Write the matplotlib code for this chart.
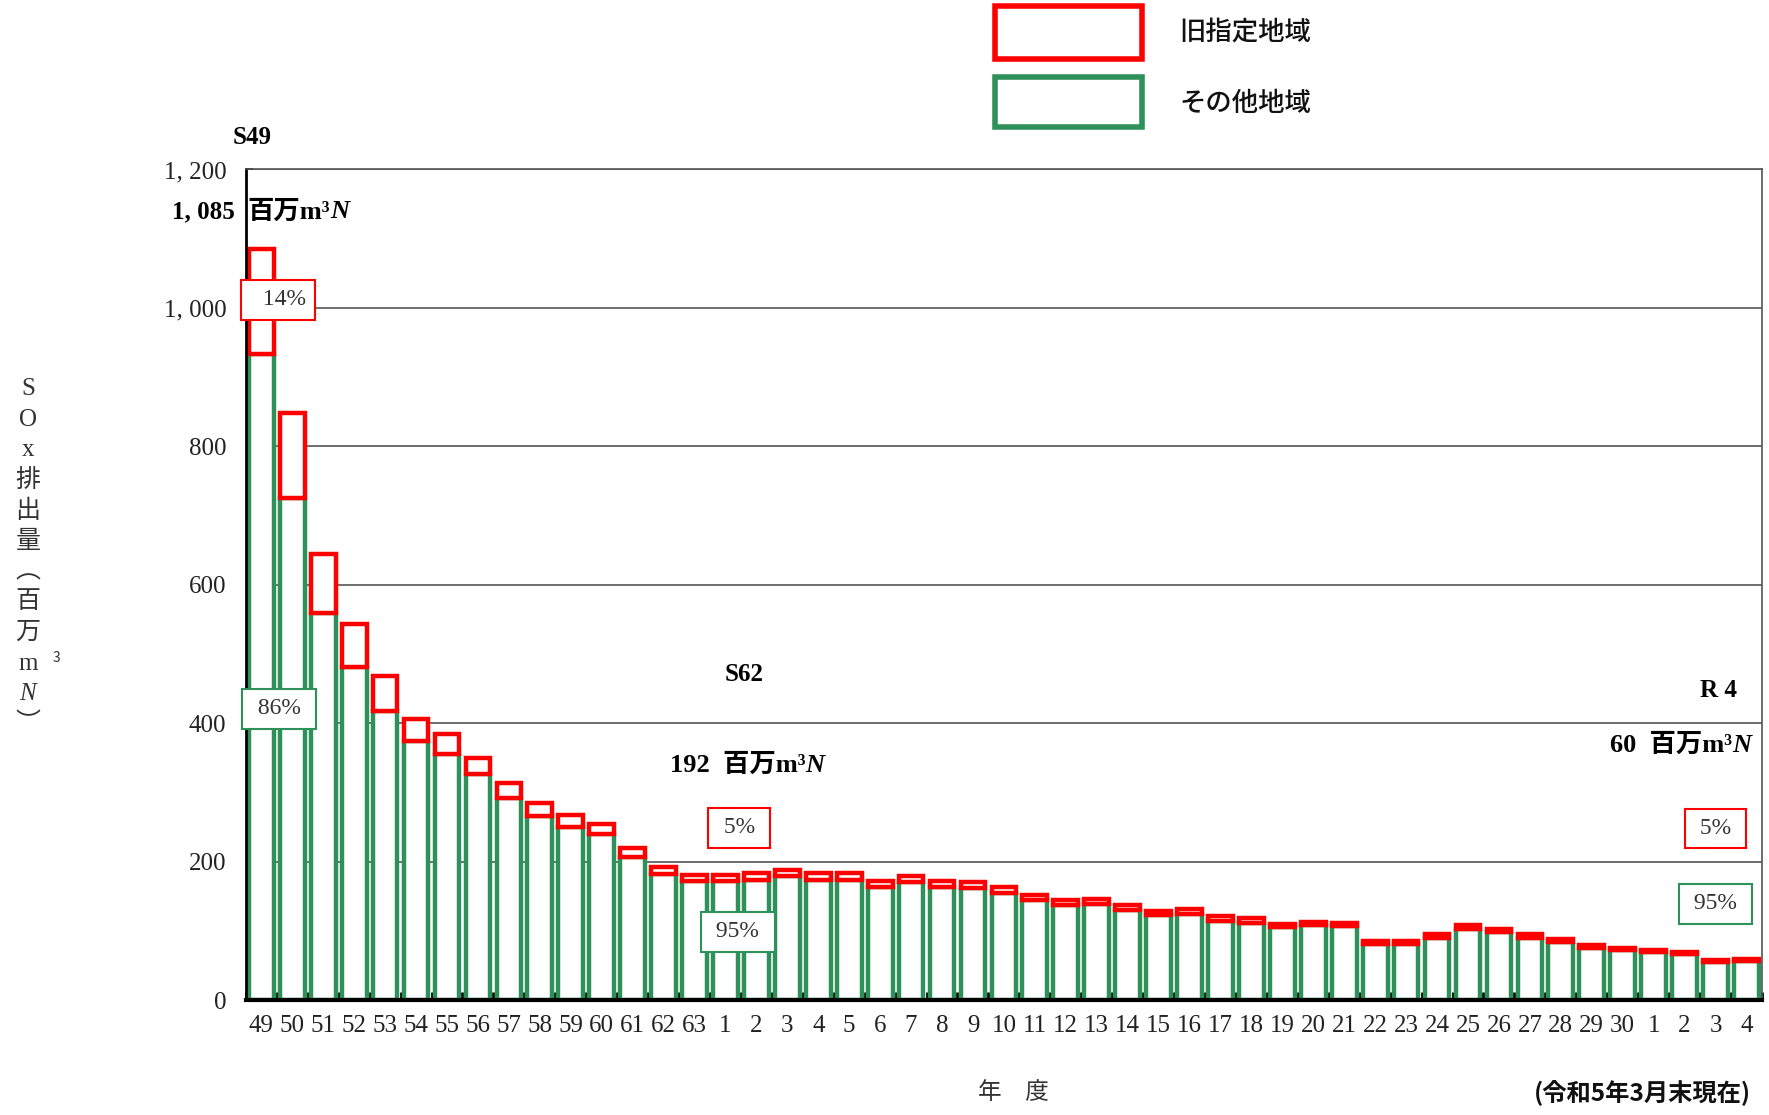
import numpy as np
import matplotlib
matplotlib.use('Agg')
import matplotlib.pyplot as plt
from matplotlib.patches import Rectangle

#%% data (百万m3N)
year_labels = ['49', '50', '51', '52', '53', '54', '55', '56', '57', '58', '59', '60', '61', '62', '63'] \
    + [str(i) for i in range(1, 31)] + ['1', '2', '3', '4']

# その他地域 (green)
other_area = [933, 726, 559, 482, 418, 375, 356, 326, 292, 266, 250, 240, 207, 182, 172,
              172, 174, 179, 174, 174, 163, 171, 163, 162, 155, 144, 138, 139, 130, 123,
              125, 115, 112, 105, 108, 107, 81, 81, 90, 103, 98, 90, 84, 76, 72,
              69, 67, 55, 57]
# 旧指定地域 (red)
old_area = [152, 122, 86, 62, 50, 31, 28, 24, 22, 19, 17, 14, 13, 10, 9,
            9, 9, 9, 9, 9, 9, 9, 9, 9, 8, 8, 7, 7, 7, 6,
            6, 6, 6, 5, 5, 5, 4, 4, 5, 5, 5, 5, 4, 4, 4,
            4, 3, 3, 3]

yticks = [0, 200, 400, 600, 800, 1000, 1200]

RED = '#FF0000'
GREEN = '#2E9159'
SERIF = ['Liberation Serif', 'Noto Sans CJK JP']
SANS = ['Noto Sans CJK JP', 'DejaVu Sans']

plt.rcParams['font.family'] = SERIF

#%% figure
fig = plt.figure(figsize=(17.69, 11.15), dpi=100)
ax = fig.add_axes([0.139, 0.103, 0.857, 0.745])

x = np.arange(len(year_labels))
ax.bar(x, other_area, width=0.8, color='white', edgecolor=GREEN, linewidth=3.2, zorder=3)
ax.bar(x, old_area, bottom=other_area, width=0.8, color='white', edgecolor=RED, linewidth=3.2, zorder=4)

ax.set_xlim(-0.5, len(year_labels) - 0.5)
ax.set_ylim(0, 1200)
ax.set_yticks(yticks)
ax.set_yticklabels([f"{v:,}".replace(',', ', ') for v in yticks], fontsize=18, color='#222222')
ax.set_xticks(x)
ax.set_xticklabels(year_labels, fontsize=18, color='#222222')
ax.set_xticks(np.arange(-0.5, len(year_labels), 1), minor=True)
ax.tick_params(axis='x', which='major', length=0, pad=11)
ax.tick_params(axis='x', which='minor', direction='in', length=6, width=2, color='black')
ax.tick_params(axis='y', direction='in', length=5, width=1.2, pad=14)

ax.set_axisbelow(True)
ax.yaxis.grid(True, color='#555555', linewidth=1.2)
for s in ['top', 'right']:
    ax.spines[s].set_color('#555555')
    ax.spines[s].set_linewidth(1.2)
ax.spines['left'].set_linewidth(2.0)
ax.spines['bottom'].set_linewidth(3.0)
for s in ax.spines.values():
    s.set_zorder(6)


def unit_text(xx, yy, prefix):
    t = ax.text(xx, yy, prefix + '百万m³', fontsize=19, fontweight='bold', ha='left', va='center',
                clip_on=False, family=SERIF)
    ax.annotate('N', xy=(1, 0.5), xycoords=t, va='center', ha='left', fontsize=19,
                fontweight='bold', style='italic', family=SERIF, annotation_clip=False)


# annotations
ax.text(-0.3, 1246, 'S49', fontsize=18, fontweight='bold', ha='center', va='center', clip_on=False)
ax.text(-0.85, 1139, '1, 085', fontsize=18, fontweight='bold', ha='right', va='center', clip_on=False)
unit_text(-0.45, 1139, '')
ax.text(15.6, 471, 'S62', fontsize=18, fontweight='bold', ha='center', va='center')
unit_text(13.2, 339, '192  ')
ax.text(47.7, 447, 'R 4', fontsize=18, fontweight='bold', ha='right', va='center')
unit_text(43.6, 368, '60  ')


def pct_box(xx, yy, s, ec):
    ax.text(xx, yy, s, fontsize=17, color='#333333', ha='center', va='center', zorder=7,
            bbox=dict(boxstyle='square,pad=0.4', fc='white', ec=ec, lw=1.5))


pct_box(0.55, 1012, '  14%', RED)
pct_box(0.58, 421, ' 86% ', GREEN)
pct_box(15.45, 249, ' 5% ', RED)
pct_box(15.4, 99, ' 95% ', GREEN)
pct_box(47.0, 248, ' 5% ', RED)
pct_box(47.0, 139, ' 95% ', GREEN)

# legend
fig.patches.append(Rectangle((0.5625, 0.947), 0.0831, 0.0475, transform=fig.transFigure,
                             fc='white', ec=RED, lw=4))
fig.patches.append(Rectangle((0.5625, 0.886), 0.0831, 0.0448, transform=fig.transFigure,
                             fc='white', ec=GREEN, lw=4))
fig.text(0.6665, 0.9717, '旧指定地域', fontsize=19, family=SANS, fontweight='medium',
         va='center', ha='left', color='#111111')
fig.text(0.6665, 0.9069, 'その他地域', fontsize=19, family=SANS, fontweight='medium',
         va='center', ha='left', color='#111111')

# y label, stacked vertically
ylabel_chars = ['S', 'O', 'x', '排', '出', '量', '︵', '百', '万', 'm', 'N', '︶']
for i, c in enumerate(ylabel_chars):
    fig.text(0.0158, 1 - (389 + 30.5 * i) / 1115, c, fontsize=18, ha='center', va='center',
             family=SERIF, color='#333333', style='italic' if c == 'N' else 'normal')
fig.text(0.0317, 1 - 658 / 1115, '3', fontsize=10, ha='center', va='center', family=SANS, color='#333333')

# x label and note
fig.text(0.5727, 0.0206, '年　度', fontsize=17, family=SANS, ha='center', va='center', color='#333333')
fig.text(0.9898, 0.0206, '(令和5年3月末現在)', fontsize=17.5, family=SANS, fontweight='bold',
         ha='right', va='center', color='#111111')

fig.savefig('out.png', dpi=100)
